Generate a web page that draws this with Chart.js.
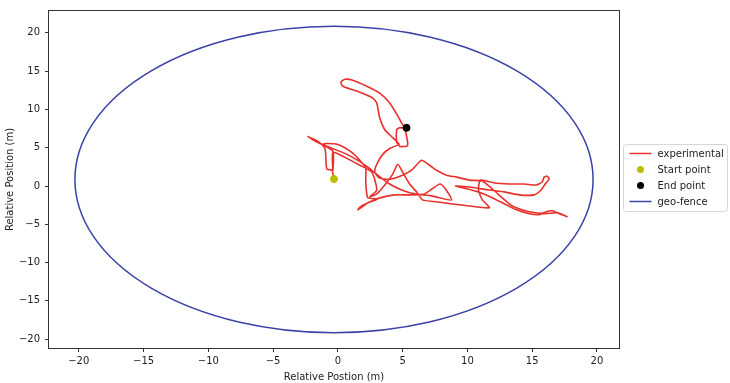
<!DOCTYPE html>
<html lang="en">
  <head>
    <meta charset="UTF-8" />
    <title>Trajectory and geo-fence</title>
    <script src="https://cdn.jsdelivr.net/npm/chart.js"></script>
    <style>
      html, body { margin: 0; padding: 0; background: #fff; }
    </style>
  </head>
  <body>
    <canvas id="track" width="730" height="383"></canvas>

    <script>
      // recorded path (m, relative to launch point)
      const expX = [
        -0.31, -0.38, -0.46, -0.85, -0.92, -1.00, -1.54, -2.31, -1.54, -0.62,
        0.54, 1.54, 2.31, 3.08, 4.00, 4.92, 5.92, 7.23, 8.77, 7.92,
        6.69, 5.54, 4.38, 3.23, 2.62, 1.85, 1.54, 1.77, 2.31, 3.08,
        2.31, 2.15, 2.15, 1.69, 1.08, 0.00, -0.85, -1.15, -0.38, -0.38,
        -0.38, 0.54, 1.69, 2.62, 3.00, 2.46, 3.00, 3.62, 4.23, 4.62,
        5.00, 5.54, 6.08, 6.54, 7.62, 9.38, 11.69, 11.15, 10.85, 11.00,
        12.08, 13.23, 14.38, 15.31, 15.77, 15.92, 16.15, 16.31, 16.00, 15.69,
        15.15, 14.00, 12.85, 11.69, 10.15, 9.08, 10.31, 11.46, 12.23, 13.00,
        13.77, 14.77, 15.54, 16.08, 16.54, 17.08, 17.69, 16.92, 16.00, 14.77,
        13.77, 13.23, 12.69, 11.92, 11.15, 10.15, 9.15, 8.38, 7.62, 7.08,
        6.46, 5.69, 5.00, 4.00, 3.23, 2.85, 3.00, 3.46, 4.00, 4.69,
        4.54, 4.54, 4.77, 5.15, 5.38, 4.77, 4.69, 4.23, 3.62, 3.23,
        3.00, 2.69, 1.46, 0.38, 0.23, 0.54, 1.15, 2.23, 3.23, 4.00,
        4.62, 5.00, 5.31
      ];
      const expY = [
        0.90, 1.55, 2.06, 2.19, 3.35, 4.90, 5.81, 6.45, 5.68, 5.03,
        4.26, 3.35, 2.45, 1.42, 0.26, -0.52, -1.03, -1.29, -1.81, 0.26,
        -1.03, -1.16, -1.16, -1.55, -1.94, -2.58, -3.10, -2.84, -2.19, -1.68,
        -1.55, 0.52, 2.32, 3.35, 4.39, 5.42, 5.55, 5.42, 4.52, 2.06,
        4.39, 3.74, 2.71, 1.81, -0.52, -1.42, -1.03, 0.13, 1.55, 2.84,
        1.81, 0.26, -0.77, -1.81, -2.06, -2.45, -2.84, -1.81, -0.52, 0.77,
        0.39, 0.26, 0.26, 0.13, 0.52, 1.16, 1.29, 0.90, 0.26, -0.52,
        -1.16, -1.16, -0.77, -0.52, -0.13, 0.00, -0.52, -1.16, -1.81, -2.45,
        -3.10, -3.61, -3.74, -3.35, -3.23, -3.61, -4.00, -3.48, -3.61, -3.35,
        -2.84, -2.32, -1.55, -0.39, 0.65, 0.77, 1.16, 1.42, 2.06, 2.71,
        3.35, 2.06, 1.42, 0.90, 1.03, 1.81, 2.84, 4.13, 4.90, 5.42,
        5.68, 7.35, 7.61, 7.48, 5.29, 5.16, 5.55, 6.32, 7.35, 8.90,
        10.84, 11.48, 12.39, 13.03, 13.55, 13.94, 13.81, 13.03, 12.13, 10.84,
        9.16, 8.00, 7.61
      ];
      const startPoint = { x: -0.3, y: 0.9 };
      const endPoint = { x: 5.3, y: 7.6 };

      // geo-fence: 20 m circle around the start
      const fenceCenter = { x: -0.3, y: 0.85 };
      const fenceRadius = 20;

      const xTicks = [-20, -15, -10, -5, 0, 5, 10, 15, 20];
      const yTicks = [-20, -15, -10, -5, 0, 5, 10, 15, 20];
      const xRange = [-22.3, 21.7];
      const yRange = [-21.15, 22.85];

      const legendLabels = ["experimental", "Start point", "End point", "geo-fence"];

      const RED = "#e8302c";
      const BLUE = "#3a41a8";
      const OLIVE = "#bdbd00";
      const INK = "#333";

      Chart.defaults.font.family = "'DejaVu Sans', sans-serif";
      Chart.defaults.font.size = 10;
      Chart.defaults.color = "#222";

      const minus = (v) => String(v).replace("-", "\u2212");

      // circle for the fence, drawn through the scales
      const fencePlugin = {
        id: "fence",
        beforeDatasetsDraw(chart) {
          const { ctx, scales } = chart;
          const cx = scales.x.getPixelForValue(fenceCenter.x);
          const cy = scales.y.getPixelForValue(fenceCenter.y);
          const rx = Math.abs(scales.x.getPixelForValue(fenceCenter.x + fenceRadius) - cx);
          const ry = Math.abs(scales.y.getPixelForValue(fenceCenter.y + fenceRadius) - cy);
          ctx.save();
          ctx.strokeStyle = BLUE;
          ctx.lineWidth = 1.5;
          ctx.beginPath();
          ctx.ellipse(cx, cy, rx, ry, 0, 0, Math.PI * 2);
          ctx.stroke();
          ctx.restore();
        },
      };

      // matplotlib-like frame and legend box
      const framePlugin = {
        id: "frame",
        afterDraw(chart) {
          const { ctx, chartArea: a } = chart;
          ctx.save();
          ctx.strokeStyle = INK;
          ctx.lineWidth = 1;
          ctx.strokeRect(a.left - 0.5, a.top - 0.5, a.right - a.left + 1, a.bottom - a.top + 1);

          const bx = a.right + 4.5, by = 144.5, bw = 104, bh = 67;
          ctx.beginPath();
          ctx.roundRect(bx, by, bw, bh, 3);
          ctx.fillStyle = "rgba(255,255,255,0.8)";
          ctx.fill();
          ctx.strokeStyle = "#d6d6d6";
          ctx.stroke();

          const colors = [RED, OLIVE, "#000", BLUE];
          ctx.font = "10px 'DejaVu Sans', sans-serif";
          ctx.textBaseline = "middle";
          legendLabels.forEach((label, i) => {
            const y = by + 9 + i * 16;
            ctx.strokeStyle = colors[i];
            ctx.fillStyle = colors[i];
            if (i === 0 || i === 3) {
              ctx.lineWidth = 1.5;
              ctx.beginPath();
              ctx.moveTo(bx + 6, y);
              ctx.lineTo(bx + 28, y);
              ctx.stroke();
            } else {
              ctx.beginPath();
              ctx.arc(bx + 17, y, 3.5, 0, Math.PI * 2);
              ctx.fill();
            }
            ctx.fillStyle = "#222";
            ctx.fillText(label, bx + 34, y + 0.5);
          });
          ctx.restore();
        },
      };

      new Chart(document.getElementById("track"), {
        type: "scatter",
        data: {
          datasets: [
            {
              label: legendLabels[1],
              data: [startPoint],
              backgroundColor: OLIVE,
              borderColor: OLIVE,
              pointRadius: 3.5,
              order: 0,
            },
            {
              label: legendLabels[2],
              data: [endPoint],
              backgroundColor: "#000",
              borderColor: "#000",
              pointRadius: 3.5,
              order: 0,
            },
            {
              label: legendLabels[0],
              data: expX.map((x, i) => ({ x, y: expY[i] })),
              showLine: true,
              borderColor: RED,
              borderWidth: 1.6,
              tension: 0.2,
              pointRadius: 0,
              order: 1,
            },
          ],
        },
        options: {
          responsive: false,
          animation: false,
          devicePixelRatio: 1,
          layout: { padding: { top: 7, right: 111, bottom: 0, left: 0 } },
          plugins: { legend: { display: false }, tooltip: { enabled: false } },
          scales: {
            x: {
              type: "linear",
              min: xRange[0],
              max: xRange[1],
              afterBuildTicks: (s) => { s.ticks = xTicks.map((value) => ({ value })); },
              afterFit: (s) => { s.height = 35; },
              ticks: { padding: 3, callback: minus, color: "#222" },
              grid: { drawOnChartArea: false, tickLength: 4, color: INK },
              border: { display: false },
              title: {
                display: true,
                text: "Relative Postion (m)",
                padding: { top: 1, bottom: 0 },
              },
            },
            y: {
              type: "linear",
              min: yRange[0],
              max: yRange[1],
              afterBuildTicks: (s) => { s.ticks = yTicks.map((value) => ({ value })); },
              afterFit: (s) => { s.width = 49; },
              ticks: { padding: 5, callback: minus, color: "#222" },
              grid: { drawOnChartArea: false, tickLength: 4, color: INK },
              border: { display: false },
              title: {
                display: true,
                text: "Relative Position (m)",
                padding: { top: 4, bottom: 0 },
              },
            },
          },
        },
        plugins: [fencePlugin, framePlugin],
      });
    </script>
  </body>
</html>
